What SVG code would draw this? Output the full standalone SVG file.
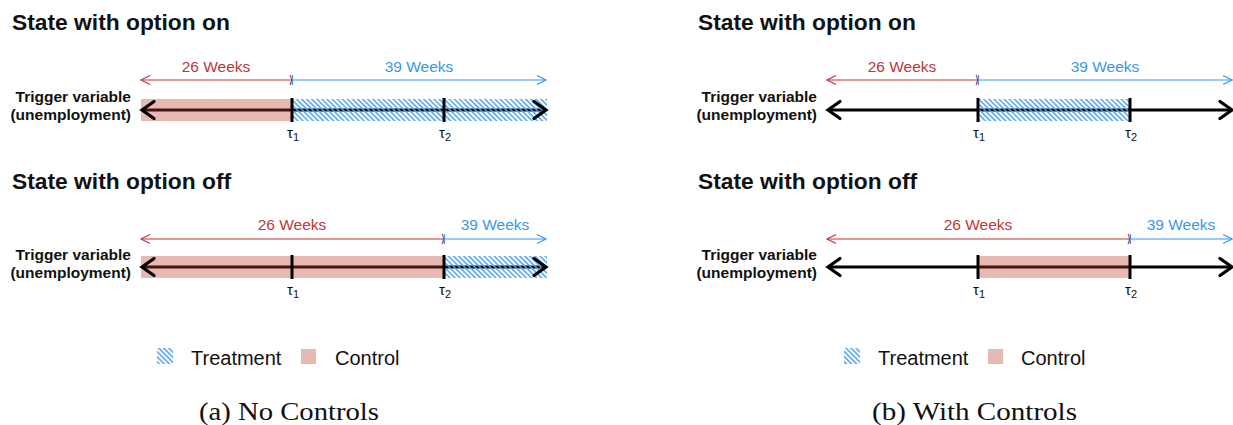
<svg xmlns="http://www.w3.org/2000/svg" width="1233" height="425" viewBox="0 0 1233 425">
<defs>
<pattern id="hatch" patternUnits="userSpaceOnUse" width="3.6" height="3.6" patternTransform="rotate(45)">
<rect x="0" y="0" width="3.6" height="1.5" fill="#4da3f0"/>
</pattern>
<marker id="chev" markerWidth="12" markerHeight="12" viewBox="-6 -6 12 12" refX="4" refY="0" orient="auto-start-reverse" markerUnits="userSpaceOnUse">
<path d="M-5,-4.5 L4,0 L-5,4.5" fill="none" stroke="context-stroke" stroke-width="1.2"/>
</marker>
</defs>
<style>
.title{font-family:"Liberation Sans",Arial,sans-serif;font-weight:bold;font-size:22.8px;fill:#111}
.trig{font-family:"Liberation Sans",Arial,sans-serif;font-weight:bold;font-size:15.5px;fill:#111;text-anchor:end}
.wk{font-family:"Liberation Sans",Arial,sans-serif;font-size:15.5px;text-anchor:middle}
.red{fill:#c0363a}
.blue{fill:#3a96f0}
.rl{stroke:#c0363a;stroke-width:1.2;fill:none}
.bl{stroke:#3a96f0;stroke-width:1.2;fill:none}
.axis{stroke:#000;stroke-width:3;fill:none}
.head{stroke:#000;stroke-width:3.2;fill:none;stroke-linecap:round;stroke-linejoin:miter}
.tick{stroke:#000;stroke-width:3}
.ctl{fill:#c0392b;fill-opacity:0.36}
.trt{fill:url(#hatch)}
.tau{font-family:"Liberation Sans",Arial,sans-serif;font-size:15px;fill:#111;text-anchor:middle}
.sub{font-size:11px}
.leg{font-family:"Liberation Sans",Arial,sans-serif;font-size:20px;fill:#111}
.cap{font-family:"Liberation Serif","Times New Roman",serif;font-size:26px;fill:#111}
</style>

<!-- ===== Panel (a) ===== -->
<g id="a-row1">
<text class="title" x="12" y="30">State with option on</text>
<text class="trig" x="131" y="102">Trigger variable</text>
<text class="trig" x="131" y="120">(unemployment)</text>
<text class="wk red" x="216" y="72">26 Weeks</text>
<text class="wk blue" x="419" y="72">39 Weeks</text>
<line class="axis" x1="142" y1="110" x2="546" y2="110"/>
<rect class="ctl" x="141" y="99" width="151" height="22"/>
<rect class="trt" x="292" y="99" width="255" height="22"/>
<line class="tick" x1="292" y1="98" x2="292" y2="122"/>
<line class="tick" x1="444" y1="98" x2="444" y2="122"/>
<text class="tau" x="293" y="138">τ<tspan class="sub" dy="3">1</tspan></text>
<text class="tau" x="445" y="138">τ<tspan class="sub" dy="3">2</tspan></text>
</g>
<g id="a-row2">
<text class="title" x="12" y="189">State with option off</text>
<text class="trig" x="131" y="260">Trigger variable</text>
<text class="trig" x="131" y="278">(unemployment)</text>
<text class="wk red" x="292" y="230">26 Weeks</text>
<text class="wk blue" x="495" y="230">39 Weeks</text>
<line class="axis" x1="142" y1="267" x2="546" y2="267"/>
<rect class="ctl" x="141" y="256" width="303" height="22"/>
<rect class="trt" x="444" y="256" width="103" height="22"/>
<line class="tick" x1="292" y1="255" x2="292" y2="279"/>
<line class="tick" x1="444" y1="255" x2="444" y2="279"/>
<text class="tau" x="293" y="295">τ<tspan class="sub" dy="3">1</tspan></text>
<text class="tau" x="445" y="295">τ<tspan class="sub" dy="3">2</tspan></text>
</g>
<g id="a-legend">
<rect class="trt" x="157" y="348" width="16" height="16"/>
<text class="leg" x="191" y="365">Treatment</text>
<rect class="ctl" x="301" y="349" width="15" height="15"/>
<text class="leg" x="335" y="365">Control</text>
<text class="cap" x="199" y="420" textLength="180" lengthAdjust="spacingAndGlyphs">(a) No Controls</text>
</g>

<!-- ===== Panel (b) ===== -->
<g id="b-row1">
<text class="title" x="698" y="30">State with option on</text>
<text class="trig" x="817" y="102">Trigger variable</text>
<text class="trig" x="817" y="120">(unemployment)</text>
<text class="wk red" x="902" y="72">26 Weeks</text>
<text class="wk blue" x="1105" y="72">39 Weeks</text>
<line class="axis" x1="828" y1="110" x2="1232" y2="110"/>
<rect class="trt" x="978" y="99" width="153" height="22"/>
<line class="tick" x1="978" y1="98" x2="978" y2="122"/>
<line class="tick" x1="1130" y1="98" x2="1130" y2="122"/>
<text class="tau" x="979" y="138">τ<tspan class="sub" dy="3">1</tspan></text>
<text class="tau" x="1131" y="138">τ<tspan class="sub" dy="3">2</tspan></text>
</g>
<g id="b-row2">
<text class="title" x="698" y="189">State with option off</text>
<text class="trig" x="817" y="260">Trigger variable</text>
<text class="trig" x="817" y="278">(unemployment)</text>
<text class="wk red" x="978" y="230">26 Weeks</text>
<text class="wk blue" x="1181" y="230">39 Weeks</text>
<line class="axis" x1="828" y1="267" x2="1232" y2="267"/>
<rect class="ctl" x="978" y="256" width="152" height="22"/>
<line class="tick" x1="978" y1="255" x2="978" y2="279"/>
<line class="tick" x1="1130" y1="255" x2="1130" y2="279"/>
<text class="tau" x="979" y="295">τ<tspan class="sub" dy="3">1</tspan></text>
<text class="tau" x="1131" y="295">τ<tspan class="sub" dy="3">2</tspan></text>
</g>
<g id="b-legend">
<rect class="trt" x="844" y="348" width="16" height="16"/>
<text class="leg" x="878" y="365">Treatment</text>
<rect class="ctl" x="988" y="349" width="15" height="15"/>
<text class="leg" x="1021" y="365">Control</text>
<text class="cap" x="872" y="420" textLength="205" lengthAdjust="spacingAndGlyphs">(b) With Controls</text>
</g>

<!-- ===== Connectors ===== -->
<g id="connectors">
<!-- panel a row 1 -->
<line class="rl" x1="141" y1="80" x2="291" y2="80" marker-start="url(#chev)"/>
<path class="rl" d="M290,75 Q293,80 290,85"/>
<line class="bl" x1="292.5" y1="80" x2="546" y2="80" marker-end="url(#chev)"/>
<line class="bl" x1="292.5" y1="75" x2="292.5" y2="85"/>
<path class="head" d="M154,101.5 L142,110 L154,118.5"/>
<path class="head" d="M534,101.5 L546,110 L534,118.5"/>
<!-- panel a row 2 -->
<line class="rl" x1="141" y1="239" x2="443" y2="239" marker-start="url(#chev)"/>
<path class="rl" d="M442,234 Q445,239 442,244"/>
<line class="bl" x1="444.5" y1="239" x2="546" y2="239" marker-end="url(#chev)"/>
<line class="bl" x1="444.5" y1="234" x2="444.5" y2="244"/>
<path class="head" d="M154,258.5 L142,267 L154,275.5"/>
<path class="head" d="M534,258.5 L546,267 L534,275.5"/>
<!-- panel b row 1 -->
<line class="rl" x1="827" y1="80" x2="977" y2="80" marker-start="url(#chev)"/>
<path class="rl" d="M976,75 Q979,80 976,85"/>
<line class="bl" x1="978.5" y1="80" x2="1232" y2="80" marker-end="url(#chev)"/>
<line class="bl" x1="978.5" y1="75" x2="978.5" y2="85"/>
<path class="head" d="M840,101.5 L828,110 L840,118.5"/>
<path class="head" d="M1220,101.5 L1232,110 L1220,118.5"/>
<!-- panel b row 2 -->
<line class="rl" x1="827" y1="239" x2="1129" y2="239" marker-start="url(#chev)"/>
<path class="rl" d="M1128,234 Q1131,239 1128,244"/>
<line class="bl" x1="1130.5" y1="239" x2="1232" y2="239" marker-end="url(#chev)"/>
<line class="bl" x1="1130.5" y1="234" x2="1130.5" y2="244"/>
<path class="head" d="M840,258.5 L828,267 L840,275.5"/>
<path class="head" d="M1220,258.5 L1232,267 L1220,275.5"/>
</g>
</svg>
